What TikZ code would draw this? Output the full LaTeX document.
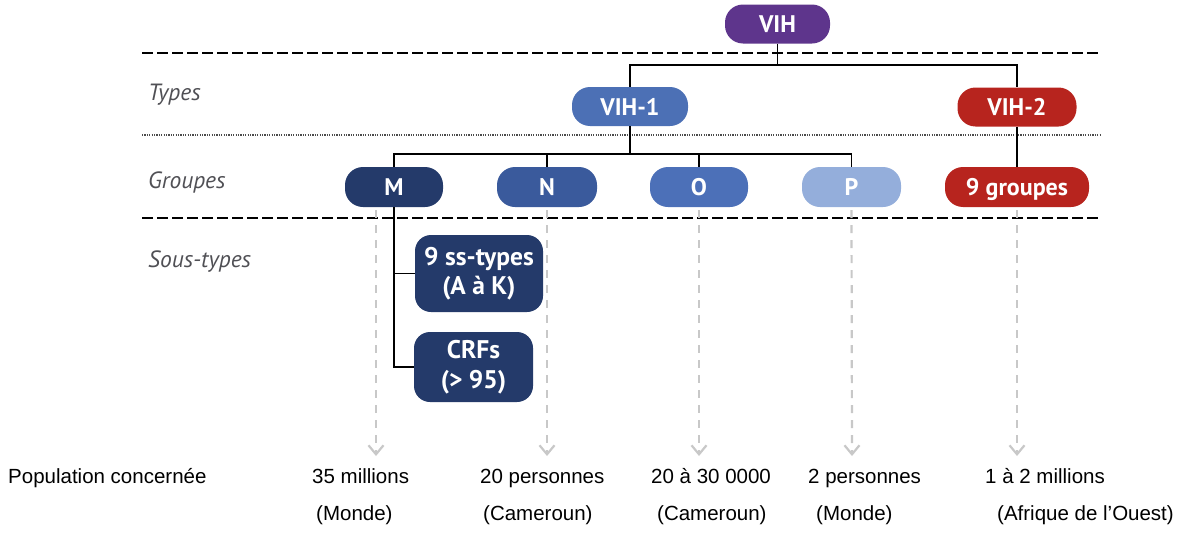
\documentclass[tikz,border=0pt]{standalone}
\usepackage{fontspec}
\setmainfont{Liberation Sans}
\newfontfamily\pillfont{PT Sans}
\usetikzlibrary{arrows.meta}

\definecolor{vihpurple}{RGB}{94,53,140}
\definecolor{vihblue}{RGB}{76,112,181}
\definecolor{vihred}{RGB}{183,36,30}
\definecolor{navyM}{RGB}{36,58,106}
\definecolor{blueN}{RGB}{58,90,156}
\definecolor{blueO}{RGB}{76,112,184}
\definecolor{blueP}{RGB}{148,174,219}
\definecolor{rowlabel}{RGB}{80,80,85}
\definecolor{guide}{RGB}{200,200,200}

\tikzset{
  pill/.style={rectangle, rounded corners=18pt, minimum height=39pt, inner sep=0pt,
    text=white, text height=17pt, text depth=0pt,
    font=\pillfont\bfseries\fontsize{24}{28}\selectfont},
  subbox/.style={rectangle, rounded corners=16pt, inner sep=0pt, fill=navyM, text=white,
    align=center, font=\pillfont\bfseries\fontsize{25.5}{29.5}\selectfont},
  rowname/.style={anchor=base west, inner sep=0pt, text=rowlabel,
    font=\pillfont\itshape\fontsize{23.5}{26}\selectfont},
  figure/.style={anchor=base west, inner sep=0pt, font=\fontsize{20.5}{24}\selectfont},
  link/.style={line width=1.5pt, black},
  rule/.style={line width=1.7pt, black, dash pattern=on 11pt off 4pt},
  finerule/.style={line width=1.4pt, black!70, dash pattern=on 1.2pt off 1.2pt},
  lead/.style={line width=2.2pt, guide, dash pattern=on 8pt off 7pt,
    -{Straight Barb[length=9pt,width=15pt,line width=2.2pt]}}
}

\begin{document}
\begin{tikzpicture}[x=1pt,y=-1pt]
\useasboundingbox (0,0) rectangle (1179,533);

% row separators
\coordinate (r1a) at (142,53);  \coordinate (r1b) at (1101,53);
\coordinate (r2a) at (142,135); \coordinate (r2b) at (1101,135);
\coordinate (r3a) at (142,218); \coordinate (r3b) at (1101,218);
\draw[rule] (r1a) -- (r1b);
\draw[finerule] (r2a) -- (r2b);
\draw[rule] (r3a) -- (r3b);

% row names
\node[rowname] (lt) at (148,100) {Types};
\node[rowname] (lg) at (148,188) {Groupes};
\node[rowname] (ls) at (148,267) {Sous-types};

% tree nodes
\node[pill, fill=vihpurple, minimum width=105pt] (vih) at (777.5,24) {VIH};
\node[pill, fill=vihblue, minimum width=116pt] (vih1) at (630,106.5) {VIH-1};
\node[pill, fill=vihred, minimum width=119pt] (vih2) at (1017,107) {VIH-2};

\node[pill, fill=navyM, minimum width=98pt, minimum height=40pt] (gm) at (394,187) {M};
\node[pill, fill=blueN, minimum width=100pt, minimum height=40pt] (gn) at (547,187) {N};
\node[pill, fill=blueO, minimum width=98pt, minimum height=40pt] (go) at (699,187) {O};
\node[pill, fill=blueP, minimum width=99pt, minimum height=40pt] (gp) at (851.5,187) {P};
\node[pill, fill=vihred, minimum width=144pt, minimum height=40pt] (g2) at (1017,187) {9 groupes};

\node[subbox, minimum width=128pt, minimum height=77pt] (ss) at (479,273.5) {9 ss-types\\(A à K)};
\node[subbox, minimum width=119pt, minimum height=70pt] (crf) at (473.5,367) {CRFs\\(> 95)};

% guide arrows towards the population figures
\coordinate (tm) at (376,456);
\coordinate (tn) at (547,456);
\coordinate (to) at (699,456);
\coordinate (tp) at (852,456);
\coordinate (t2) at (1017,456);
\draw[lead] ([xshift=-18pt,yshift=-3pt]gm.south) -- (tm);
\draw[lead] ([yshift=-3pt]gn.south) -- (tn);
\draw[lead] ([yshift=-3pt]go.south) -- (to);
\draw[lead] ([yshift=-3pt]gp.south) -- (tp);
\draw[lead] ([yshift=-3pt]g2.south) -- (t2);

% tree connectors
\coordinate (bus1) at (0,65);
\coordinate (bus2) at (0,154);
\draw[link] (vih.south) -- (vih.south |- bus1);
\draw[link] (vih1.north) -- (vih1.north |- bus1) -- (vih2.north |- bus1) -- (vih2.north);
\draw[link] (vih1.south) -- (vih1.south |- bus2);
\draw[link] (gm.north) -- (gm.north |- bus2) -- (gp.north |- bus2) -- (gp.north);
\draw[link] (gn.north |- bus2) -- (gn.north);
\draw[link] (go.north |- bus2) -- (go.north);
\draw[link] (vih2.south) -- (g2.north);
\draw[link] (gm.south) |- (crf.west);
\draw[link] (gm.south |- ss.west) -- (ss.west);

% population figures
\node[figure] (pop) at (8,483) {Population concernée};
\node[figure] (pm1) at (312,483) {35 millions};
\node[figure] (pm2) at (316,520) {(Monde)};
\node[figure] (pn1) at (480,483) {20 personnes};
\node[figure] (pn2) at (483,520) {(Cameroun)};
\node[figure] (po1) at (651,483) {20 à 30 0000};
\node[figure] (po2) at (657,520) {(Cameroun)};
\node[figure] (pp1) at (808,483) {2 personnes};
\node[figure] (pp2) at (816,520) {(Monde)};
\node[figure] (p21) at (985,483) {1 à 2 millions};
\node[figure] (p22) at (997,520) {(Afrique de l’Ouest)};
\end{tikzpicture}
\end{document}
